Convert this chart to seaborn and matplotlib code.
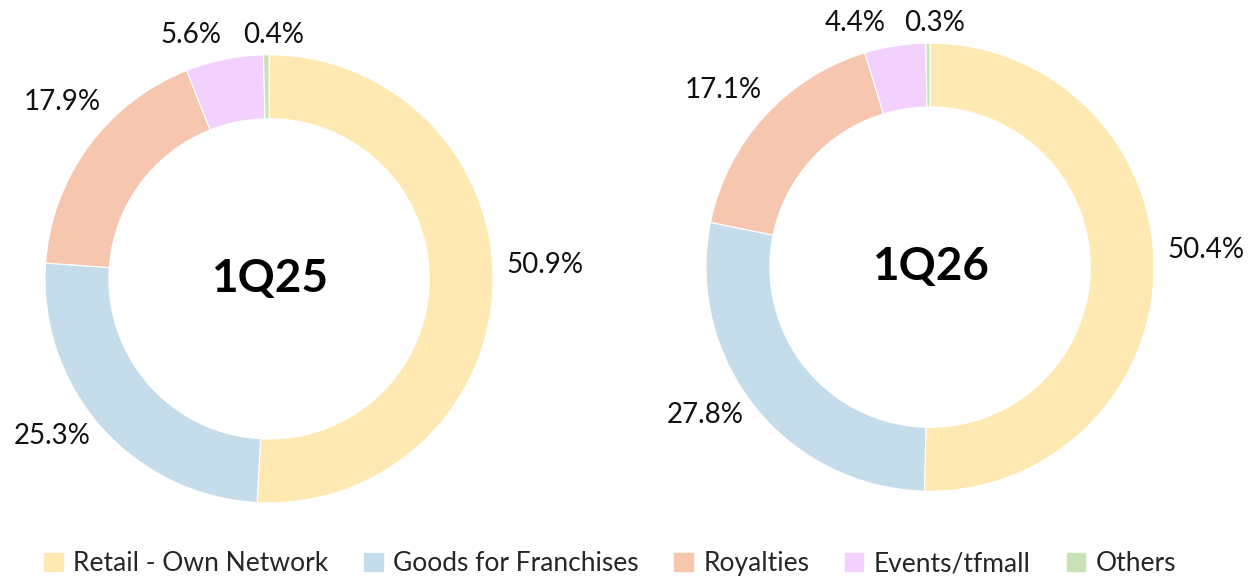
import matplotlib.pyplot as plt
import matplotlib.patches as mpatches
import seaborn as sns

sns.set_theme(style="white")
plt.rcParams['font.family'] = ['Lato', 'DejaVu Sans']

# data
categories = ['Retail - Own Network', 'Goods for Franchises', 'Royalties', 'Events/tfmall', 'Others']
share_1q25 = [50.9, 25.3, 17.9, 5.6, 0.4]
share_1q26 = [50.4, 27.8, 17.1, 4.4, 0.3]
periods = ['1Q25', '1Q26']
colors = ['#FFE9B3', '#C5DCEA', '#F7C6AE', '#F2D1FF', '#C9E3B7']

fig = plt.figure(figsize=(12.58, 5.79), dpi=100)

# axes placed so each donut sits where it is in the original
lim = 1.3
ax_specs = [(-0.0176, 0.0155), (0.5078, 0.0357)]


def donut(ax, values, title):
    wedges, texts = ax.pie(values, colors=colors, startangle=90, counterclock=False,
                           radius=1, labels=[f'{v:.1f}%' for v in values],
                           labeldistance=1.06,
                           wedgeprops=dict(width=0.285, edgecolor='white', linewidth=0.8),
                           textprops=dict(fontsize=20, color='#111111'))
    # nudge labels the way the original (Excel) places them
    x, y = texts[0].get_position()
    texts[0].set_position((x, y + 0.09))
    texts[2].set_position((-0.75, 0.79))
    x, y = texts[3].get_position()
    texts[3].set_position((min(x, -0.2), 1.09))
    texts[4].set_ha('center')
    texts[4].set_position((0.02, 1.09))
    ax.text(0, 0, title, ha='center', va='center', fontsize=33, fontweight='bold', color='black')
    ax.set_xlim(-lim, lim)
    ax.set_ylim(-lim, lim)
    ax.set_aspect('equal')
    ax.axis('off')


for (lft, btm), vals, title in zip(ax_specs, [share_1q25, share_1q26], periods):
    ax = fig.add_axes([lft, btm, 582.4 / 1258, 582.4 / 579])
    donut(ax, vals, title)

handles = [mpatches.Patch(color=c, label=l) for c, l in zip(colors, categories)]
fig.legend(handles=handles, loc='center', bbox_to_anchor=(0.485, 0.026), ncol=5,
           frameon=False, fontsize=19, handlelength=0.7, handleheight=0.7,
           handletextpad=0.4, columnspacing=1.35)

fig.savefig('out.png', dpi=100)
